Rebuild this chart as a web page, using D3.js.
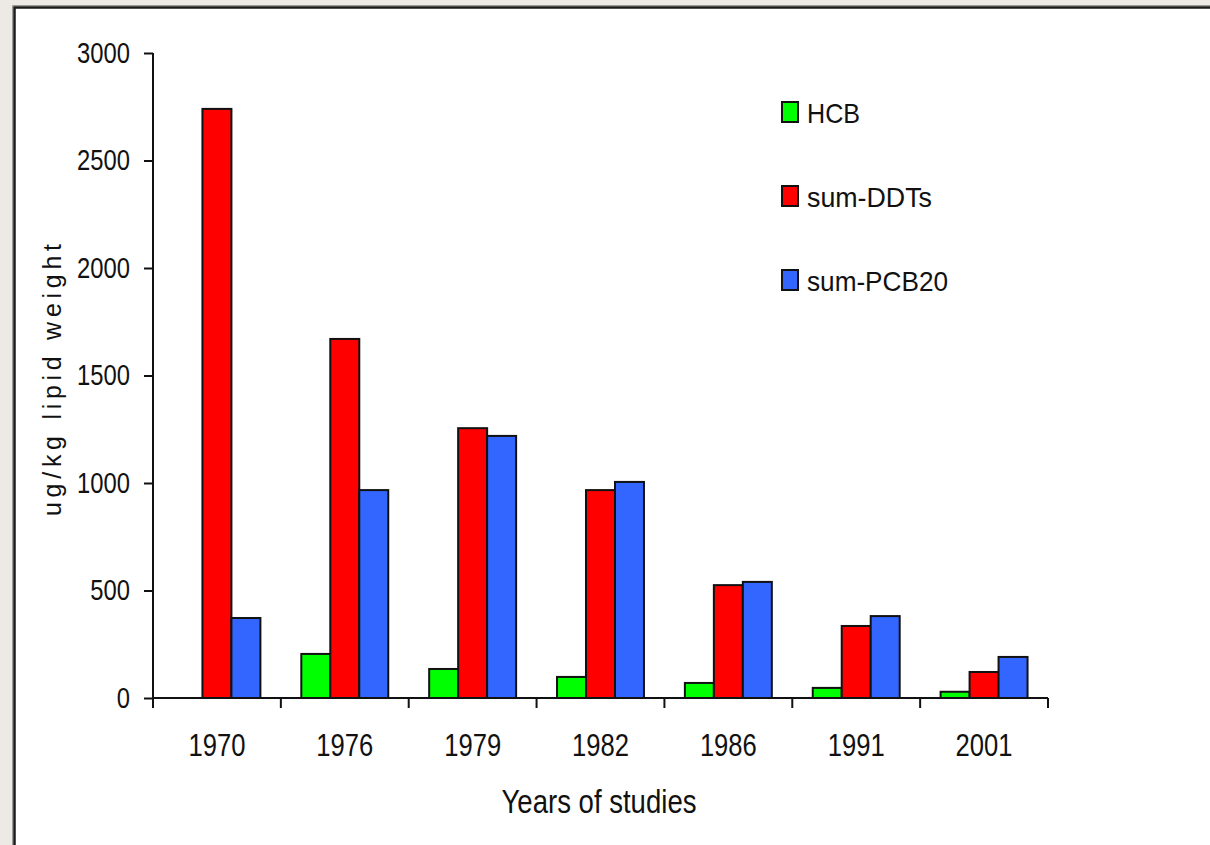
<!DOCTYPE html>
<html>
<head>
<meta charset="utf-8">
<script src="https://cdn.jsdelivr.net/npm/d3@7"></script>
<style>
  body { margin: 0; background: #edeae5; }
  text { font-family: "Liberation Sans", Arial, sans-serif; fill: #111; }
</style>
</head>
<body>
<div id="chart"></div>
<script>

// Chart data
var years = ["1970", "1976", "1979", "1982", "1986", "1991", "2001"];
var seriesNames = ["HCB", "sum-DDTs", "sum-PCB20"];
var seriesColors = ["#00ff00", "#ff0000", "#3366ff"];
var hcb = [0, 205, 135, 98, 70, 47, 29];
var ddts = [2740, 1670, 1255, 967, 525, 335, 121];
var pcb20 = [372, 967, 1219, 1005, 540, 381, 191];
var yTicks = [0, 500, 1000, 1500, 2000, 2500, 3000];

var width = 1210,
    height = 845;

var margin = { top: 53, left: 153, bottom: 147, right: 162 };

// The original font is a narrow sans, so squeeze the glyphs horizontally
function squeeze(selection, factor) {
    selection.each(function() {
        var w = this.getComputedTextLength();
        d3.select(this)
            .attr("textLength", w * factor)
            .attr("lengthAdjust", "spacingAndGlyphs");
    });
}

var svg = d3.select("#chart").append("svg")
    .attr("width", width)
    .attr("height", height);

// Window frame around the chart
svg.append("rect")
    .attr("x", 0).attr("y", 0)
    .attr("width", width).attr("height", height)
    .attr("fill", "#edeae5");

svg.append("rect")
    .attr("x", 15).attr("y", 8)
    .attr("width", width).attr("height", height)
    .attr("fill", "#ffffff");

svg.append("path")
    .attr("d", "M12.5,845V5.5H1210")
    .attr("fill", "none")
    .attr("stroke", "#9a9a9a")
    .attr("stroke-width", 1);

svg.append("path")
    .attr("d", "M14.5,845V7.5H1210")
    .attr("fill", "none")
    .attr("stroke", "#1a1a1a")
    .attr("stroke-width", 2.5);

// Rows for the grouped bars
var data = years.map(function(y, i) {
    return {
        year: y,
        values: [hcb[i], ddts[i], pcb20[i]].map(function(v, s) { return { series: s, value: v }; })
    };
});

// Scales
var xScale = d3.scaleBand()
    .domain(years)
    .range([margin.left, 1048])
    .paddingInner(0.32)
    .paddingOuter(0.16);

var xInner = d3.scaleBand()
    .domain(d3.range(seriesNames.length))
    .range([0, xScale.bandwidth()]);

var yScale = d3.scaleLinear()
    .domain([0, 3000])
    .range([height - margin.bottom, margin.top]);

var x0 = xScale.range()[0],
    x1 = xScale.range()[1],
    y0 = yScale(0);

// Bars
var groups = svg.append("g")
    .selectAll("g")
    .data(data)
    .enter()
    .append("g")
    .attr("transform", function(d) { return "translate(" + xScale(d.year) + ",0)"; });

groups.selectAll("rect")
    .data(function(d) { return d.values.filter(function(v) { return v.value > 0; }); })
    .enter()
    .append("rect")
    .attr("x", function(d) { return xInner(d.series); })
    .attr("y", function(d) { return yScale(d.value); })
    .attr("width", xInner.bandwidth())
    .attr("height", function(d) { return y0 - yScale(d.value); })
    .attr("fill", function(d) { return seriesColors[d.series]; })
    .attr("stroke", "#111")
    .attr("stroke-width", 2);

// Y axis
var yAxis = d3.axisLeft(yScale)
    .tickValues(yTicks)
    .tickFormat(d3.format("d"))
    .tickSize(9)
    .tickPadding(14);

var yAxisG = svg.append("g")
    .attr("transform", "translate(" + x0 + ",0)")
    .call(yAxis);

yAxisG.select(".domain").remove();
yAxisG.selectAll("line").attr("stroke", "#111").attr("stroke-width", 2);
yAxisG.selectAll("text")
    .style("font-size", "29px")
    .attr("fill", "#111")
    .call(squeeze, 0.82);

svg.append("line")
    .attr("x1", x0).attr("x2", x0)
    .attr("y1", yScale(3000)).attr("y2", y0 + 10)
    .attr("stroke", "#111")
    .attr("stroke-width", 2);

// X axis
var xAxis = d3.axisBottom(xScale)
    .tickSize(0)
    .tickPadding(35);

var xAxisG = svg.append("g")
    .attr("transform", "translate(0," + y0 + ")")
    .call(xAxis);

xAxisG.select(".domain").remove();
xAxisG.selectAll("text")
    .style("font-size", "32px")
    .attr("fill", "#111")
    .call(squeeze, 0.80);

svg.append("line")
    .attr("x1", x0).attr("x2", x1)
    .attr("y1", y0).attr("y2", y0)
    .attr("stroke", "#111")
    .attr("stroke-width", 2);

// Category boundary ticks
var boundaries = d3.range(years.length + 1).map(function(i) { return x0 + i * xScale.step(); });

svg.append("g")
    .selectAll("line")
    .data(boundaries)
    .enter()
    .append("line")
    .attr("x1", function(d) { return d; })
    .attr("x2", function(d) { return d; })
    .attr("y1", y0)
    .attr("y2", y0 + 10)
    .attr("stroke", "#111")
    .attr("stroke-width", 2);

// Axis titles
svg.append("text")
    .attr("transform", "translate(61,380) rotate(-90)")
    .style("text-anchor", "middle")
    .style("font-size", "25px")
    .attr("textLength", 272)
    .attr("lengthAdjust", "spacing")
    .text("ug/kg lipid weight");

svg.append("text")
    .attr("x", 599)
    .attr("y", 813)
    .style("text-anchor", "middle")
    .style("font-size", "34px")
    .text("Years of studies")
    .call(squeeze, 0.81);

// Legend
var legendWidths = [53, 125, 141];

var legend = svg.append("g")
    .selectAll("g")
    .data(seriesNames)
    .enter()
    .append("g")
    .attr("transform", function(d, i) { return "translate(782," + (102 + i * 84) + ")"; });

legend.append("rect")
    .attr("width", 16)
    .attr("height", 20)
    .attr("fill", function(d, i) { return seriesColors[i]; })
    .attr("stroke", "#111")
    .attr("stroke-width", 2);

legend.append("text")
    .attr("x", 25)
    .attr("y", 21)
    .style("font-size", "28px")
    .attr("textLength", function(d, i) { return legendWidths[i]; })
    .attr("lengthAdjust", "spacingAndGlyphs")
    .text(function(d) { return d; });

</script>
</body>
</html>
